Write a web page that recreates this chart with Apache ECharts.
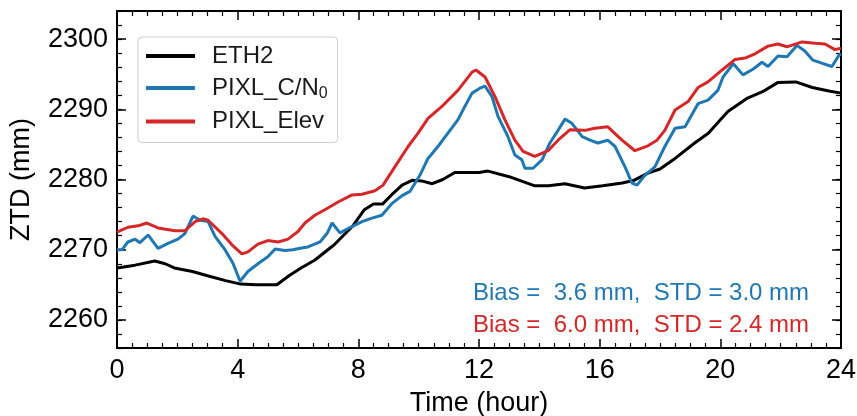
<!DOCTYPE html>
<html>
<head>
<meta charset="utf-8">
<script src="https://cdn.jsdelivr.net/npm/echarts@6/dist/echarts.min.js"></script>
<style>html,body{margin:0;padding:0;background:#fff}#c{width:857px;height:416px}</style>
</head>
<body>
<div id="c"></div>
<script>
// ---- data (hour, ZTD mm) ----
const seriesNames = ['ETH2', 'PIXL_C/N0', 'PIXL_Elev'];
const eth2 = [[0,2267.4],[0.6,2267.8],[1.25,2268.4],[1.6,2268.0],[1.9,2267.4],[2.5,2266.9],[3.0,2266.3],[3.6,2265.6],[4.1,2265.1],[4.6,2265.0],[5.3,2265.0],[5.7,2266.3],[6.1,2267.4],[6.55,2268.5],[7.2,2270.7],[7.8,2273.3],[8.2,2275.7],[8.5,2276.5],[8.8,2276.5],[9.1,2277.8],[9.45,2279.2],[9.8,2279.9],[10.1,2279.8],[10.45,2279.4],[10.8,2280.0],[11.2,2281.0],[12.0,2281.0],[12.3,2281.2],[13.0,2280.4],[13.85,2279.1],[14.3,2279.1],[14.85,2279.4],[15.5,2278.8],[16.1,2279.1],[16.75,2279.5],[17.15,2279.9],[17.6,2280.9],[18.0,2281.5],[18.5,2283.0],[19.15,2285.2],[19.6,2286.6],[20.25,2289.7],[20.9,2291.6],[21.4,2292.5],[21.9,2293.8],[22.5,2293.9],[23.05,2293.1],[23.6,2292.6],[24,2292.3]];
const pixlCN0 = [[0,2270.0],[0.17,2270.0],[0.36,2271.1],[0.6,2271.5],[0.76,2271.0],[1.03,2272.1],[1.36,2270.2],[1.69,2270.9],[2.02,2271.5],[2.25,2272.3],[2.52,2274.8],[2.75,2274.2],[3.02,2274.0],[3.25,2271.9],[3.58,2270.0],[3.84,2268.1],[4.08,2265.5],[4.34,2266.9],[4.67,2268.0],[5.0,2269.0],[5.24,2270.1],[5.57,2269.9],[5.83,2270.0],[6.07,2270.2],[6.33,2270.4],[6.73,2271.1],[6.96,2272.3],[7.13,2273.8],[7.39,2272.4],[7.79,2273.3],[8.12,2274.0],[8.45,2274.5],[8.78,2274.9],[9.12,2276.6],[9.45,2277.7],[9.71,2278.3],[10.04,2280.6],[10.31,2283.0],[10.64,2284.7],[10.97,2286.6],[11.3,2288.5],[11.53,2290.4],[11.77,2292.3],[12.03,2293.0],[12.2,2293.3],[12.43,2291.8],[12.63,2289.0],[12.96,2286.1],[13.19,2283.5],[13.42,2282.8],[13.52,2281.6],[13.79,2281.6],[14.09,2282.8],[14.35,2285.2],[14.62,2287.0],[14.85,2288.6],[15.08,2288.0],[15.42,2286.1],[15.68,2285.6],[15.94,2285.2],[16.27,2285.6],[16.51,2284.7],[16.84,2281.8],[17.07,2279.5],[17.24,2279.2],[17.5,2280.6],[17.83,2281.8],[18.16,2284.7],[18.5,2287.3],[18.83,2287.5],[19.26,2290.8],[19.59,2291.3],[19.92,2292.7],[20.09,2294.6],[20.43,2296.5],[20.75,2294.9],[21.08,2295.7],[21.38,2296.7],[21.58,2296.1],[21.91,2297.6],[22.21,2297.5],[22.54,2299.1],[22.8,2298.3],[23.07,2297.0],[23.41,2296.5],[23.7,2296.1],[23.93,2297.7],[24,2297.9]];
const pixlElev = [[0,2272.5],[0.36,2273.2],[0.7,2273.4],[0.99,2273.8],[1.36,2273.1],[1.92,2272.7],[2.25,2272.7],[2.59,2274.0],[2.85,2274.4],[3.02,2274.2],[3.48,2272.3],[3.81,2270.7],[4.14,2269.4],[4.34,2269.7],[4.67,2270.8],[5.0,2271.3],[5.34,2271.1],[5.67,2271.5],[6.0,2272.6],[6.23,2273.8],[6.56,2274.9],[6.89,2275.7],[7.33,2276.8],[7.79,2277.8],[8.12,2277.9],[8.55,2278.4],[8.82,2279.2],[9.21,2281.8],[9.65,2284.7],[9.98,2286.6],[10.31,2288.7],[10.77,2290.4],[11.3,2292.7],[11.77,2295.3],[11.9,2295.6],[12.2,2294.6],[12.53,2291.8],[12.86,2288.5],[13.19,2285.6],[13.46,2284.0],[13.85,2283.3],[14.29,2284.1],[14.62,2285.6],[15.02,2287.1],[15.51,2287.0],[15.84,2287.3],[16.27,2287.5],[16.74,2285.6],[17.17,2284.1],[17.6,2284.8],[17.9,2285.6],[18.16,2287.0],[18.5,2289.9],[18.93,2291.1],[19.26,2293.1],[19.59,2293.9],[20.06,2295.6],[20.49,2297.1],[20.82,2297.3],[21.15,2297.9],[21.58,2299.0],[21.91,2299.3],[22.21,2298.9],[22.71,2299.6],[23.14,2299.4],[23.47,2299.3],[23.8,2298.5],[24,2298.7]];
const yMajorTicks = [2260, 2270, 2280, 2290, 2300];
const statsText = ['Bias =  3.6 mm,  STD = 3.0 mm', 'Bias =  6.0 mm,  STD = 2.4 mm'];

const FONT = 'Liberation Sans, Arial, Helvetica, sans-serif';
const BLUE = '#1f77b4', RED = '#d62728', BLACK = '#000000';
const chart = echarts.init(document.getElementById('c'), null, {renderer: 'canvas'});

const axisLine = {show: true, lineStyle: {color: '#000', width: 2}};
function xAx(pos, labels) {
  return {
    type: 'value', position: pos, min: 0, max: 24, interval: 4,
    axisLine, splitLine: {show: false},
    axisTick: {show: true, inside: true, length: 9, lineStyle: {color: '#000', width: 1.5}},
    minorTick: {show: true, splitNumber: 8, length: 5, lineStyle: {color: '#000', width: 1.2}},
    axisLabel: {show: labels, margin: 9, fontSize: 27, color: '#000', fontFamily: FONT},
    name: labels ? 'Time (hour)' : '', nameLocation: 'middle', nameGap: 42,
    nameTextStyle: {fontSize: 27, color: '#000', fontFamily: FONT}
  };
}
function yMajor(pos, labels) {
  return {
    type: 'value', position: pos, min: 2256, max: 2304,
    axisLine, splitLine: {show: false},
    axisTick: {show: true, inside: true, length: 9, customValues: yMajorTicks, lineStyle: {color: '#000', width: 1.5}},
    axisLabel: {show: labels, customValues: yMajorTicks, margin: 9, fontSize: 27, color: '#000', fontFamily: FONT,
      formatter: function (v) { return String(v); }},
    name: labels ? 'ZTD (mm)' : '', nameLocation: 'middle', nameGap: 82,
    nameTextStyle: {fontSize: 27, color: '#000', fontFamily: FONT}
  };
}
function yMinor(pos) {
  return {
    type: 'value', position: pos, min: 2256, max: 2304, interval: 2,
    axisLine, splitLine: {show: false},
    axisTick: {show: true, inside: true, length: 5, lineStyle: {color: '#000', width: 1.2}},
    axisLabel: {show: false}
  };
}

const colors = [BLACK, BLUE, RED];
const datas = [eth2, pixlCN0, pixlElev];

chart.setOption({
  animation: false,
  backgroundColor: '#fff',
  grid: {left: 117, right: 16, top: 11, bottom: 68, containLabel: false, outerBoundsMode: 'none'},
  xAxis: [xAx('bottom', true), xAx('top', false)],
  yAxis: [yMajor('left', true), yMinor('left'), yMajor('right', false), yMinor('right')],
  legend: {
    left: 138, top: 37, orient: 'vertical',
    padding: [7, 10, 9, 8], itemGap: 8,
    backgroundColor: '#fff', borderColor: '#cfcfcf', borderWidth: 1, borderRadius: 4,
    icon: 'rect', itemWidth: 49, itemHeight: 4,
    data: seriesNames,
    formatter: function (n) { return n === 'PIXL_C/N0' ? '{t|PIXL_C/N}{s|0}' : '{t|' + n + '}'; },
    textStyle: {
      color: '#1a1a1a', fontFamily: FONT, fontSize: 24, padding: [0, 0, 0, 12],
      rich: {
        t: {fontSize: 24, fontFamily: FONT, color: '#1a1a1a', lineHeight: 27},
        s: {fontSize: 16, fontFamily: FONT, color: '#1a1a1a', verticalAlign: 'bottom', lineHeight: 12}
      }
    }
  },
  series: seriesNames.map((n, i) => ({
    name: n, type: 'line', data: datas[i], xAxisIndex: 0, yAxisIndex: 0,
    showSymbol: false, symbol: 'none', smooth: false, z: 3,
    color: colors[i],
    lineStyle: {color: colors[i], width: 3}
  })),
  graphic: [
    {type: 'text', x: 473, y: 293, z: 10, style: {text: statsText[0], fill: BLUE, fontSize: 24, fontFamily: FONT, verticalAlign: 'middle'}},
    {type: 'text', x: 473, y: 325, z: 10, style: {text: statsText[1], fill: RED, fontSize: 24, fontFamily: FONT, verticalAlign: 'middle'}}
  ]
});
</script>
</body>
</html>
